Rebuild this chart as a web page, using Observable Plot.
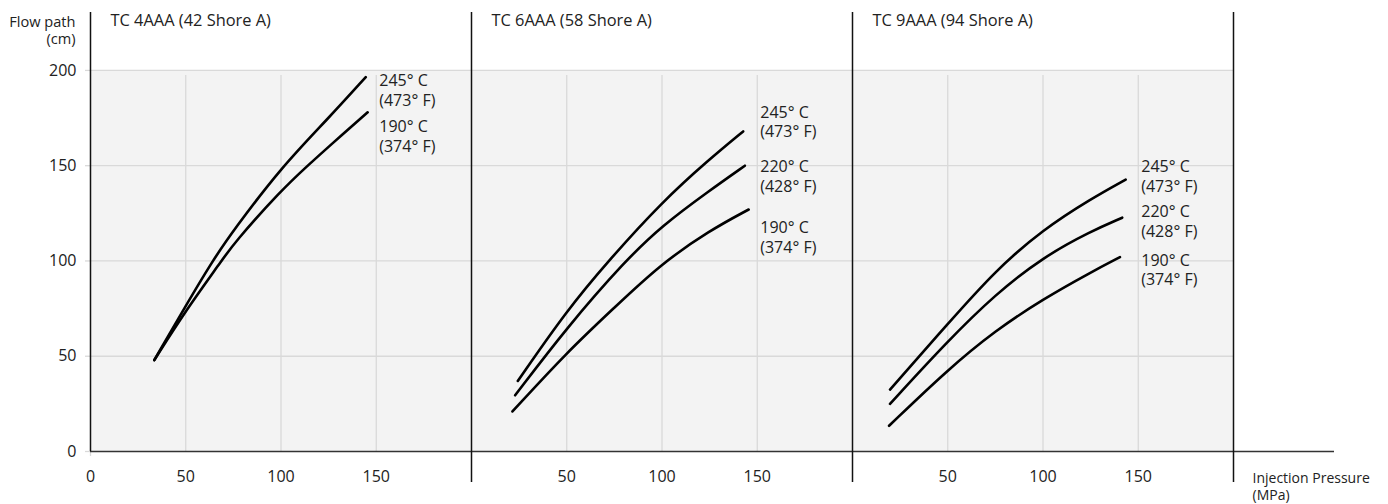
<!DOCTYPE html>
<html>
<head>
<meta charset="utf-8">
<script src="https://cdn.jsdelivr.net/npm/d3@7"></script>
<script src="https://cdn.jsdelivr.net/npm/@observablehq/plot@0.6"></script>
<style>
  html, body { margin: 0; padding: 0; background: #fff; }
  #chart { width: 1388px; height: 504px; }
</style>
</head>
<body>
<div id="chart"></div>
<script>
// ---- Data ----
const facets = ["TC 4AAA (42 Shore A)", "TC 6AAA (58 Shore A)", "TC 9AAA (94 Shore A)"];
const xTicks = [0, 50, 100, 150];
const yTicks = [0, 50, 100, 150, 200];
const xMax = 200;
const yLabel = "Flow path\n(cm)";
const xLabel = "Injection Pressure\n(MPa)";

// [pressure (MPa), flow path (cm)]
const tc4_245 = [[33.5, 48], [50, 76.5], [64, 100], [75, 116], [100, 149], [125, 175], [144.5, 196.5]];
const tc4_190 = [[33.5, 48], [50, 74], [68.8, 100], [75, 109], [100, 137], [114, 150], [125, 160], [145.5, 178]];

const tc6_245 = [[24.3, 37], [50, 74], [71.8, 100], [100, 131], [125, 153.5], [142.6, 168]];
const tc6_220 = [[22.9, 29.5], [50, 65], [80.6, 100], [100, 118.5], [125, 137], [143.5, 150]];
const tc6_190 = [[21.5, 21], [50, 52], [75, 75.5], [98.9, 98], [125, 116], [145.5, 127]];

const tc9_245 = [[19.7, 32.5], [50, 67], [75, 95], [100, 116.5], [125, 132.5], [143.4, 142.7]];
const tc9_220 = [[19.7, 25], [50, 58], [75, 82.5], [100, 102], [125, 115.5], [141.6, 122.7]];
const tc9_190 = [[19.2, 13.5], [50, 43], [75, 63.5], [100, 80], [125, 94], [140.4, 102]];

const tempNames = {"245": "245° C\n(473° F)", "220": "220° C\n(428° F)", "190": "190° C\n(374° F)"};

// label anchors: [facet index, temp, flow path value at label centre]
const labelSpots = [
  [0, "245", 189.9], [0, "190", 165.6],
  [1, "245", 173.4], [1, "220", 144.8], [1, "190", 112.7],
  [2, "245", 144.8], [2, "220", 121.2], [2, "190", 95.7]
];

// ---- Build tables ----
const seriesList = [
  [0, "245", tc4_245], [0, "190", tc4_190],
  [1, "245", tc6_245], [1, "220", tc6_220], [1, "190", tc6_190],
  [2, "245", tc9_245], [2, "220", tc9_220], [2, "190", tc9_190]
];
const rows = seriesList.flatMap(([fi, t, pts]) =>
  pts.map(([x, y]) => ({facet: facets[fi], series: facets[fi] + t, x, y})));
const labels = labelSpots.map(([fi, t, y]) => ({facet: facets[fi], text: tempNames[t], y}));
const xTickRows = facets.flatMap((f, i) => xTicks.filter(v => i === 0 || v > 0).map(v => ({f, v})));
const yTickRows = yTicks.map(v => ({f: facets[0], v}));
const first = [{f: facets[0]}];
const last = [{f: facets[facets.length - 1]}];
const yTop = yTicks[yTicks.length - 1];

const grid = "#d9d9d9";
const ink = "#222";

const chart = Plot.plot({
  width: 1388,
  height: 504,
  marginLeft: 90,
  marginRight: 155,
  marginTop: 12,
  marginBottom: 53,
  fx: {domain: facets, padding: 0, axis: null},
  x: {domain: [0, xMax], axis: null},
  y: {domain: [0, 230.4], axis: null},
  style: {fontFamily: "'Open Sans', sans-serif", fontSize: "16px", color: ink, background: "#fff"},
  marks: [
    Plot.rect([0], {x1: 0, x2: xMax, y1: 0, y2: yTop, fill: "#f3f3f3"}),
    Plot.ruleY(yTicks.filter(v => v > 0), {x1: 0, x2: xMax, stroke: grid, strokeWidth: 1.3}),
    Plot.ruleX(xTicks.filter(v => v > 0), {y1: 0, y2: yTop, stroke: grid, strokeWidth: 1.3, insetBottom: -5}),
    Plot.ruleX(xTickRows.filter(d => d.v === 0), {fx: "f", x: "v", y1: 0, y2: 0, insetBottom: -5, stroke: grid, strokeWidth: 1.3}),
    // y ticks and labels
    Plot.ruleY(yTickRows, {fx: "f", y: "v", x1: 0, x2: 0, insetLeft: -5, stroke: grid, strokeWidth: 1.3}),
    Plot.text(yTickRows, {fx: "f", x: 0, y: "v", text: d => String(d.v), dx: -14, textAnchor: "end", fill: ink}),
    Plot.text(first, {fx: "f", text: () => yLabel, frameAnchor: "top-left", dx: -15, dy: 2, lineAnchor: "top", textAnchor: "end", fontSize: 14.6, lineHeight: 1.2, fill: ink}),
    // x tick labels
    Plot.text(xTickRows, {fx: "f", x: "v", y: 0, text: d => String(d.v), dy: 25, fill: ink}),
    Plot.text(last, {fx: "f", x: xMax, y: 0, text: () => xLabel, dx: 19, dy: 20, lineAnchor: "top", textAnchor: "start", fontSize: 14, lineHeight: 1.2, fill: ink}),
    // baseline
    Plot.ruleY([0], {x1: 0, x2: xMax, stroke: "#333", strokeWidth: 1.6}),
    Plot.ruleY(last, {fx: "f", y: 0, x1: xMax, x2: xMax, insetRight: -101, stroke: "#333", strokeWidth: 1.6}),
    // dividers
    Plot.ruleX(first, {fx: "f", x: 0, stroke: "#111", strokeWidth: 1.5}),
    Plot.ruleX([xMax], {stroke: "#111", strokeWidth: 1.5, insetBottom: -31}),
    // facet titles
    Plot.text(facets, {fx: d => d, text: d => d, frameAnchor: "top-left", dx: 20, dy: 2, textAnchor: "start", fontSize: 16.4, fill: ink}),
    // curves
    Plot.line(rows, {fx: "facet", x: "x", y: "y", z: "series", curve: "basis", stroke: "#000", strokeWidth: 2.6}),
    // curve labels
    Plot.text(labels, {fx: "facet", x: 150, y: "y", text: "text", dx: 3, textAnchor: "start", lineHeight: 1.22, fill: ink})
  ]
});
document.getElementById("chart").appendChild(chart);
</script>
</body>
</html>
